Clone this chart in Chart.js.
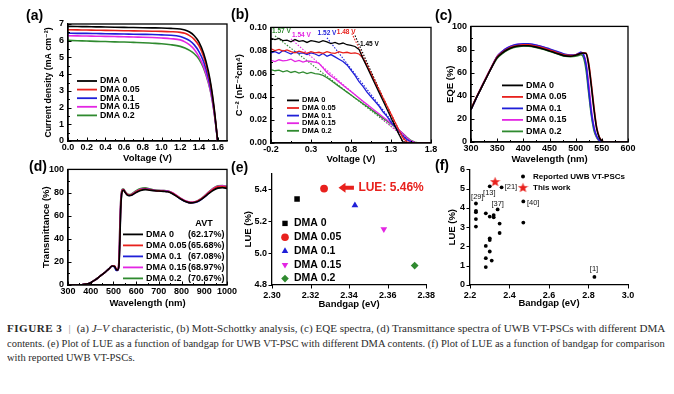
<!DOCTYPE html>
<html>
<head>
<meta charset="utf-8">
<title>Figure 3</title>
<script src="https://cdn.jsdelivr.net/npm/chart.js@4.4.1/dist/chart.umd.min.js"></script>
<style>
  html, body { margin: 0; padding: 0; background: #fff; }
  body { position: relative; width: 674px; height: 394px; overflow: hidden; }
  canvas { position: absolute; }
  .tag { position: absolute; font: bold 14px 'Liberation Sans', Arial, sans-serif; color: #000; line-height: 1; }
  .caption { position: absolute; left: 7px; top: 321px; font-family: 'Liberation Serif', 'DejaVu Serif', serif; font-size: 11px; color: #2b2b2b; }
  .caption div { white-space: nowrap; height: 14.5px; line-height: 14.5px; transform-origin: 0 50%; }
  .caption .fig { font-weight: bold; letter-spacing: 0.5px; }
  .caption .bar { color: #999; margin: 0 6px; }
</style>
</head>
<body>
<canvas id="chart-jv"></canvas>
<canvas id="chart-ms"></canvas>
<canvas id="chart-eqe"></canvas>
<canvas id="chart-trans"></canvas>
<canvas id="chart-lue"></canvas>
<canvas id="chart-compare"></canvas>

<div class="tag" style="left:26px;top:8px">(a)</div>
<div class="tag" style="left:231px;top:7px">(b)</div>
<div class="tag" style="left:435px;top:8px">(c)</div>
<div class="tag" style="left:29px;top:159px">(d)</div>
<div class="tag" style="left:231px;top:160px">(e)</div>
<div class="tag" style="left:435px;top:158px">(f)</div>

<div class="caption">
  <div data-w="658"><span class="fig">FIGURE 3</span><span class="bar">|</span>(a) <i>J–V</i> characteristic, (b) Mott-Schottky analysis, (c) EQE spectra, (d) Transmittance spectra of UWB VT-PSCs with different DMA</div>
  <div data-w="658">contents. (e) Plot of LUE as a function of bandgap for UWB VT-PSC with different DMA contents. (f) Plot of LUE as a function of bandgap for comparison</div>
  <div data-w="128">with reported UWB VT-PSCs.</div>
</div>

<script>
// shared series names / colours
const dmaLabels = ['DMA 0', 'DMA 0.05', 'DMA 0.1', 'DMA 0.15', 'DMA 0.2'];
const dmaColors = ['#000000', '#e8211d', '#1f1fd8', '#e326e3', '#2f8a2f'];
const avtLabels = ['(62.17%)', '(65.68%)', '(67.08%)', '(68.97%)', '(70.67%)'];

// (a) J-V curves
const jvVoltage = [0.0, 0.1, 0.2, 0.3, 0.4, 0.5, 0.6, 0.7, 0.8, 0.9, 1.0, 1.1, 1.2, 1.25, 1.3, 1.35, 1.4, 1.45, 1.5, 1.53, 1.56, 1.58, 1.6];
const jvDma0   = [6.86, 6.85, 6.84, 6.83, 6.82, 6.81, 6.80, 6.79, 6.78, 6.77, 6.76, 6.74, 6.70, 6.64, 6.52, 6.30, 5.92, 5.25, 4.20, 3.30, 2.10, 1.10, 0.0];
const jvDma005 = [6.66, 6.65, 6.64, 6.63, 6.62, 6.61, 6.60, 6.59, 6.58, 6.57, 6.56, 6.54, 6.50, 6.44, 6.30, 6.08, 5.70, 5.05, 4.05, 3.20, 2.00, 1.05, 0.0];
const jvDma01  = [6.45, 6.44, 6.44, 6.43, 6.42, 6.41, 6.40, 6.39, 6.38, 6.37, 6.35, 6.33, 6.25, 6.15, 6.00, 5.75, 5.35, 4.75, 3.80, 3.00, 1.90, 1.00, 0.0];
const jvDma015 = [6.30, 6.29, 6.28, 6.27, 6.26, 6.25, 6.24, 6.22, 6.21, 6.19, 6.16, 6.12, 6.05, 5.93, 5.75, 5.48, 5.05, 4.45, 3.55, 2.80, 1.80, 0.95, 0.0];
const jvDma02  = [6.02, 6.00, 5.98, 5.96, 5.95, 5.93, 5.92, 5.90, 5.88, 5.85, 5.82, 5.76, 5.66, 5.56, 5.42, 5.22, 4.90, 4.35, 3.50, 2.80, 1.80, 0.95, 0.0];
const jvTicksX = [0.0, 0.2, 0.4, 0.6, 0.8, 1.0, 1.2, 1.4, 1.6];
const jvTicksY = [0, 1, 2, 3, 4, 5, 6, 7];

// (b) Mott-Schottky
const msVoltage = [-0.20, -0.15, -0.10, -0.05, 0.00, 0.05, 0.10, 0.15, 0.20, 0.25, 0.30, 0.35, 0.40, 0.45, 0.50, 0.55, 0.60, 0.65, 0.70, 0.75,
  0.80, 0.85, 0.90, 0.95, 1.00, 1.05, 1.10, 1.15, 1.20, 1.25, 1.30, 1.35, 1.40, 1.45, 1.50, 1.55, 1.60, 1.65, 1.70, 1.75, 1.80];
const msDma0 = [0.0905, 0.0895, 0.0905, 0.0885, 0.0890, 0.0875, 0.0895, 0.0880, 0.0885, 0.0870, 0.0885, 0.0880, 0.0870, 0.0885, 0.0875, 0.0860, 0.0870, 0.0855, 0.0865, 0.0850,
  0.0845, 0.0835, 0.0810, 0.0730, 0.0657, 0.0584, 0.0511, 0.0438, 0.0365, 0.0292, 0.0219, 0.0146, 0.0073, 0.0010, 0.0003, 0, 0, 0, 0, 0, 0];
const msDma005 = [0.0815, 0.0800, 0.0810, 0.0795, 0.0805, 0.0790, 0.0780, 0.0795, 0.0785, 0.0775, 0.0790, 0.0780, 0.0785, 0.0775, 0.0790, 0.0780, 0.0775, 0.0790, 0.0780, 0.0785,
  0.0775, 0.0780, 0.0770, 0.0735, 0.0670, 0.0600, 0.0530, 0.0460, 0.0390, 0.0320, 0.0250, 0.0180, 0.0110, 0.0045, 0.0010, 0.0002, 0, 0, 0, 0, 0];
const msDma01 = [0.0780, 0.0790, 0.0775, 0.0800, 0.0785, 0.0770, 0.0790, 0.0775, 0.0780, 0.0765, 0.0780, 0.0770, 0.0755, 0.0775, 0.0750, 0.0765, 0.0745, 0.0725, 0.0705, 0.0675,
  0.0630, 0.0585, 0.0530, 0.0490, 0.0440, 0.0400, 0.0360, 0.0320, 0.0270, 0.0230, 0.0180, 0.0140, 0.0100, 0.0060, 0.0030, 0.0010, 0, 0, 0, 0, 0];
const msDma015 = [0.0715, 0.0705, 0.0720, 0.0710, 0.0715, 0.0725, 0.0705, 0.0715, 0.0700, 0.0710, 0.0705, 0.0700, 0.0690, 0.0650, 0.0610, 0.0580, 0.0555, 0.0528, 0.0500, 0.0472,
  0.0445, 0.0418, 0.0390, 0.0362, 0.0335, 0.0308, 0.0280, 0.0252, 0.0225, 0.0198, 0.0170, 0.0142, 0.0112, 0.0080, 0.0045, 0.0018, 0.0005, 0, 0, 0, 0];
const msDma02 = [0.0635, 0.0625, 0.0630, 0.0615, 0.0625, 0.0610, 0.0620, 0.0605, 0.0615, 0.0600, 0.0610, 0.0600, 0.0595, 0.0585, 0.0565, 0.0540, 0.0515, 0.0490, 0.0465, 0.0440,
  0.0415, 0.0390, 0.0365, 0.0340, 0.0315, 0.0290, 0.0265, 0.0240, 0.0215, 0.0190, 0.0165, 0.0140, 0.0112, 0.0082, 0.0050, 0.0022, 0.0008, 0.0002, 0, 0, 0];
// dotted extrapolations: [x start, y start] -> [intercept, 0]
const msFitStartX = [0.85, 0.81, 0.50, 0.05, -0.15];
const msFitStartY = [0.0930, 0.0948, 0.0910, 0.0900, 0.0927];
const msIntercepts = [1.45, 1.48, 1.52, 1.54, 1.57];
const msInterceptText = ['1.45 V', '1.48 V', '1.52 V', '1.54 V', '1.57 V'];
const msLabelX = [1.03, 0.74, 0.50, 0.18, -0.07];
const msLabelY = [0.0855, 0.0955, 0.0950, 0.0935, 0.0970];
const msTicksX = [-0.2, 0.3, 0.8, 1.3, 1.8];
const msTicksY = [0.00, 0.02, 0.04, 0.06, 0.08, 0.10];

// (c) EQE
const eqeWavelength = [300, 310, 320, 330, 340, 350, 360, 370, 380, 390, 400, 410, 420, 430, 440, 450, 460, 470, 480, 490,
  500, 505, 510, 515, 520, 525, 530, 535, 540, 545, 550, 555, 560, 600];
const eqeDma0   = [28, 38, 47, 56, 65, 73, 77, 80, 82, 83, 83.3, 83.2, 82.5, 81.5, 80.2, 78.8, 77.2, 75.8, 74.5, 74.2,
  75.0, 75.8, 76.5, 77.0, 76.5, 66, 48, 28, 12, 4, 1, 0, 0, 0];
const eqeDma005 = [28.5, 38.5, 47.5, 56.5, 65.5, 73.5, 77.5, 80.5, 82.5, 83.5, 84, 84, 83.3, 82.3, 81, 79.5, 78, 76.5, 75.2, 74.8,
  75.3, 76, 76.5, 77, 77, 68, 50, 30, 13, 4.5, 1.2, 0, 0, 0];
const eqeDma01  = [28, 38, 47.5, 56.5, 65.5, 74, 78.5, 81.5, 83.5, 84.5, 85, 85, 84.3, 83.2, 82, 80.5, 79, 77.5, 75.8, 75.2,
  75.5, 76.5, 77.5, 75.5, 66, 45, 25, 12, 5, 1.5, 0.3, 0, 0, 0];
const eqeDma015 = [28, 38, 47.5, 56.5, 65.5, 74, 78.5, 81.5, 83.5, 84.5, 85, 84.8, 84, 83, 81.8, 80.2, 78.6, 77, 75.5, 75,
  75.3, 76.5, 77.5, 76, 68, 50, 28, 13, 5, 1.5, 0.3, 0, 0, 0];
const eqeDma02  = [28, 38, 47, 56, 65, 72.5, 76.5, 79.5, 81.5, 82.5, 83, 82.8, 82.2, 81.2, 80, 78.5, 77, 75.5, 74.2, 73.8,
  74.2, 74.8, 75.5, 73, 62, 42, 23, 10, 4, 1, 0.2, 0, 0, 0];
const eqeTicksX = [300, 350, 400, 450, 500, 550, 600];
const eqeTicksY = [0, 20, 40, 60, 80, 100];

// (d) transmittance
const trWavelength = [300, 340, 360, 380, 400, 420, 440, 460, 480, 495, 505, 512, 518, 524, 528, 532, 536, 540, 545, 550,
  560, 570, 580, 590, 600, 620, 640, 660, 680, 700, 720, 740, 760, 780, 800, 820, 840, 860, 880, 900, 920, 940, 960, 980, 1000];
const trDma0   = [0, 0, 0.2, 0.8, 2, 4.5, 7.5, 10.5, 14, 16.5, 16, 13.5, 13, 16, 35, 65, 78, 81.5, 82, 80.5,
  78, 77.3, 77.6, 78.8, 80, 81.8, 82.5, 82, 81.5, 81.3, 81, 80.6, 79, 76.5, 74, 72, 71, 71.5, 73.2, 76, 79.2, 82, 83.8, 84.2, 83.5];
const trDma005 = [0, 0, 0.2, 0.8, 2, 4.5, 7.5, 10.5, 14, 16.5, 16.5, 14, 13, 17, 40, 68, 79, 82, 82.3, 80.8,
  78.3, 77.6, 78, 79.2, 80.5, 82.3, 83, 82.3, 81.7, 81.4, 81.2, 80.8, 79.3, 76.8, 74.3, 72.3, 71.3, 71.8, 73.6, 76.5, 80, 83, 85, 85.2, 84.3];
const trDma01  = [0, 0, 0.2, 0.8, 2, 4.5, 7.5, 10.5, 14, 16.3, 15.5, 12.5, 12.5, 16, 38, 67, 79, 82, 82.3, 80.8,
  78.2, 77.5, 77.8, 79, 80.3, 82.3, 83.2, 82.5, 81.8, 81.5, 81.3, 80.8, 79.2, 76.6, 74, 72, 71, 71.4, 73, 76, 79.5, 82.5, 84.5, 85, 84.5];
const trDma015 = [0, 0, 0.2, 0.8, 2, 4.5, 7.5, 10.5, 14, 16.5, 16.5, 13.5, 13, 20, 48, 72, 80.5, 82.5, 82.6, 81,
  78.6, 77.9, 78.3, 79.6, 81, 82.8, 83.5, 82.8, 82, 81.8, 81.8, 81.4, 79.8, 77.2, 74.6, 72.6, 71.6, 72, 73.8, 76.8, 80.3, 83.5, 85.5, 85.8, 85];
const trDma02  = [0, 0, 0.2, 0.8, 2, 4.5, 7.5, 10.5, 14, 16.5, 16.3, 13, 13, 21, 50, 73, 81, 83, 83, 81.3,
  79, 78.3, 78.8, 80.2, 81.6, 83.5, 84, 83.2, 82.3, 81.9, 81.7, 81.2, 79.6, 77, 74.5, 72.5, 71.5, 72, 74, 77, 80.6, 83.8, 85.8, 86, 85.2];
const trTicksX = [300, 400, 500, 600, 700, 800, 900, 1000];
const trTicksY = [0, 20, 40, 60, 80, 100];

// (e) LUE vs bandgap for DMA contents
const lueBandgap = [2.313, 2.327, 2.343, 2.358, 2.374];
const lueValues = [5.34, 5.405, 5.30, 5.15, 4.922];
const lueMarkers = ['rect', 'circle', 'triangle', 'triangle', 'rectRot'];
const lueMarkerTurn = [0, 0, 0, 180, 0];
const lueTicksX = [2.30, 2.32, 2.34, 2.36, 2.38];
const lueTicksY = [4.8, 5.0, 5.2, 5.4];

// (f) comparison with reported devices
const reportedGap = [2.23, 2.23, 2.23, 2.23, 2.23, 2.28, 2.28, 2.28, 2.28, 2.30, 2.30, 2.30, 2.30, 2.30, 2.31, 2.32, 2.32, 2.34, 2.35, 2.35, 2.36, 2.47, 2.47, 2.83];
const reportedLue = [4.23, 3.85, 3.78, 3.42, 3.03, 3.72, 2.03, 1.39, 0.93, 5.12, 3.55, 2.42, 2.33, 1.74, 1.27, 3.63, 3.51, 3.92, 3.19, 2.70, 5.07, 4.34, 3.24, 0.42];
const thisWorkGap = [2.327];
const thisWorkLue = [5.37];
const refText = ['[29]', '[13]', '[21]', '[37]', '[40]', '[1]'];
const refX = [2.237, 2.298, 2.407, 2.340, 2.520, 2.828];
const refY = [4.59, 4.78, 5.07, 4.22, 4.27, 0.84];
const cmpTicksX = [2.2, 2.4, 2.6, 2.8, 3.0];
const cmpTicksY = [0, 1, 2, 3, 4, 5, 6];

const FONT = "'Liberation Sans', 'DejaVu Sans', Arial, sans-serif";
Chart.defaults.font.family = FONT;
Chart.defaults.color = '#000';

function toXY(xs, ys) {
  return xs.map((x, i) => ({ x, y: ys[i] }));
}

function midpoints(values) {
  const out = [];
  for (let i = 0; i < values.length - 1; i++) out.push((values[i] + values[i + 1]) / 2);
  return out;
}

function starImage(size, color) {
  const c = document.createElement('canvas');
  c.width = size;
  c.height = size;
  const g = c.getContext('2d');
  g.fillStyle = color;
  g.beginPath();
  for (let i = 0; i < 10; i++) {
    const r = i % 2 ? size * 0.21 : size / 2;
    const ang = -Math.PI / 2 + i * Math.PI / 5;
    g.lineTo(size / 2 + r * Math.cos(ang), size / 2 + r * 0.95 * Math.sin(ang) + size * 0.04);
  }
  g.closePath();
  g.fill();
  return c;
}
const redStar = starImage(11, '#e8211d');

// per-chart extras read by the plugin below (keyed by canvas id)
const extras = {};

const panelPlugin = {
  id: 'panelExtras',
  afterDraw(chart) {
    const ex = extras[chart.canvas.id];
    if (!ex) return;
    const ctx = chart.ctx;
    const a = chart.chartArea;
    const xs = chart.scales.x;
    const ys = chart.scales.y;
    ctx.save();
    ctx.strokeStyle = '#000';
    ctx.lineWidth = 1.3;
    if (ex.box) ctx.strokeRect(a.left, a.top, a.right - a.left, a.bottom - a.top);

    // tick marks
    const dir = ex.inward ? -1 : 1;
    const tickX = (v, len) => {
      const px = Math.round(xs.getPixelForValue(v)) + 0.5;
      ctx.beginPath(); ctx.moveTo(px, a.bottom); ctx.lineTo(px, a.bottom + dir * len); ctx.stroke();
    };
    const tickY = (v, len) => {
      const py = Math.round(ys.getPixelForValue(v)) + 0.5;
      ctx.beginPath(); ctx.moveTo(a.left, py); ctx.lineTo(a.left - dir * len, py); ctx.stroke();
    };
    ctx.lineWidth = 1;
    (ex.ticksX || []).forEach((v) => tickX(v, 3.5));
    (ex.ticksY || []).forEach((v) => tickY(v, 3.5));
    if (ex.minor) {
      midpoints(ex.ticksX).forEach((v) => tickX(v, 2));
      midpoints(ex.ticksY).forEach((v) => tickY(v, 2));
    }

    // free text in data coordinates
    (ex.notes || []).forEach((n) => {
      ctx.font = `${n.weight || 'bold'} ${n.size}px ${FONT}`;
      ctx.fillStyle = n.color;
      ctx.textAlign = n.align || 'center';
      ctx.textBaseline = 'middle';
      ctx.fillText(n.text, xs.getPixelForValue(n.x), ys.getPixelForValue(n.y));
    });

    if (ex.arrow) {
      const x1 = xs.getPixelForValue(ex.arrow.from);
      const x2 = xs.getPixelForValue(ex.arrow.to);
      const y = ys.getPixelForValue(ex.arrow.y);
      ctx.fillStyle = ex.arrow.color;
      ctx.fillRect(x2 + 5, y - 2, x1 - x2 - 5, 4);
      ctx.beginPath();
      ctx.moveTo(x2, y); ctx.lineTo(x2 + 7, y - 5); ctx.lineTo(x2 + 7, y + 5); ctx.closePath();
      ctx.fill();
    }

    // legend inside the plot area
    const lg = ex.legend;
    if (lg) {
      ctx.font = `bold ${lg.size}px ${FONT}`;
      ctx.textBaseline = 'middle';
      ctx.textAlign = 'left';
      lg.items.forEach((it, i) => {
        const y = a.top + lg.y + i * lg.gap;
        if (lg.lineFrom !== undefined) {
          ctx.strokeStyle = it.color;
          ctx.lineWidth = 1.8;
          ctx.beginPath();
          ctx.moveTo(a.left + lg.lineFrom, y);
          ctx.lineTo(a.left + lg.lineTo, y);
          ctx.stroke();
        } else if (it.image) {
          ctx.drawImage(it.image, a.left + lg.markX - it.image.width / 2, y - it.image.height / 2);
        } else {
          ctx.fillStyle = it.color;
          ctx.strokeStyle = it.color;
          Chart.helpers.drawPoint(ctx, { pointStyle: it.style, rotation: it.rotation || 0, radius: it.radius, borderWidth: 0 }, a.left + lg.markX, y);
        }
        ctx.fillStyle = '#000';
        ctx.fillText(it.text, a.left + lg.textX, y);
        if (it.extra) ctx.fillText(it.extra, a.left + lg.extraX, y);
      });
      if (lg.header) {
        ctx.textAlign = 'center';
        ctx.fillText(lg.header.text, a.left + lg.header.x, a.top + lg.header.y);
      }
    }
    ctx.restore();
  }
};
Chart.register(panelPlugin);

function axis(min, max, values, digits, title, pad, titleSize) {
  return {
    type: 'linear',
    min,
    max,
    grid: { display: false, drawTicks: false },
    border: { display: true, color: '#000', width: 1.3 },
    ticks: {
      padding: pad,
      autoSkip: false,
      maxRotation: 0,
      color: '#000',
      font: { size: 9, weight: 'bold' },
      callback: (v) => Number(v).toFixed(digits)
    },
    afterBuildTicks: (scale) => { scale.ticks = values.map((v) => ({ value: v })); },
    title: { display: true, text: title, color: '#000', padding: 0, font: { size: titleSize || 9.5, weight: 'bold' } }
  };
}

function buildChart(id, geo, config) {
  const canvas = document.getElementById(id);
  const left = geo.l - geo.yW;
  const top = geo.t - geo.padT;
  const width = geo.r + geo.padR - left;
  const height = geo.b + geo.xH - top;
  canvas.width = width;
  canvas.height = height;
  canvas.style.left = left + 'px';
  canvas.style.top = top + 'px';
  canvas.style.width = width + 'px';
  canvas.style.height = height + 'px';
  const o = config.options;
  o.responsive = false;
  o.animation = false;
  o.layout = { padding: { top: geo.padT, right: geo.padR, left: 0, bottom: 0 } };
  o.scales.x.afterFit = (s) => { s.height = geo.xH; };
  o.scales.y.afterFit = (s) => { s.width = geo.yW; };
  o.plugins = { legend: { display: false }, tooltip: { enabled: false } };
  return new Chart(canvas, config);
}

function curveSets(xs, series, width, smooth) {
  return dmaLabels.map((name, i) => ({
    label: name,
    data: toXY(xs, series[i]),
    borderColor: dmaColors[i],
    borderWidth: width,
    pointRadius: 0,
    fill: false,
    cubicInterpolationMode: smooth ? 'monotone' : 'default',
    tension: 0
  }));
}

function lineLegend(y, gap, size, lineFrom, lineTo, textX) {
  return { y, gap, size, lineFrom, lineTo, textX, items: dmaLabels.map((t, i) => ({ text: t, color: dmaColors[i] })) };
}

// (a)
extras['chart-jv'] = { box: true, inward: true, minor: true, ticksX: jvTicksX, ticksY: jvTicksY,
  legend: lineLegend(57, 8.6, 8.8, 9, 29, 32) };
buildChart('chart-jv', { l: 68, t: 24, r: 227, b: 141, yW: 25, xH: 23, padT: 10, padR: 10 }, {
  type: 'line',
  data: { datasets: curveSets(jvVoltage, [jvDma0, jvDma005, jvDma01, jvDma015, jvDma02], 1.6, true) },
  options: { scales: {
    x: axis(0, 1.7, jvTicksX, 1, 'Voltage (V)', 1),
    y: axis(0, 7, jvTicksY, 0, 'Current density (mA cm⁻²)', 4, 8.8)
  } }
});

// (b)
const msSets = curveSets(msVoltage, [msDma0, msDma005, msDma01, msDma015, msDma02], 1.3, false);
msIntercepts.forEach((v, i) => {
  msSets.push({
    data: [{ x: msFitStartX[i], y: msFitStartY[i] }, { x: v, y: 0 }],
    borderColor: dmaColors[i],
    borderWidth: 1.1,
    borderDash: [1.5, 1.5],
    pointRadius: 0,
    fill: false
  });
});
extras['chart-ms'] = { box: true, inward: true, minor: true, ticksX: msTicksX, ticksY: msTicksY,
  legend: lineLegend(73, 7.6, 7.5, 16, 28, 31),
  notes: msInterceptText.map((t, i) => ({ text: t, x: msLabelX[i], y: msLabelY[i], color: dmaColors[i], size: 6.5 })) };
buildChart('chart-ms', { l: 271, t: 26, r: 431, b: 143, yW: 37, xH: 22, padT: 8, padR: 9 }, {
  type: 'line',
  data: { datasets: msSets },
  options: { scales: {
    x: axis(-0.2, 1.8, msTicksX, 1, 'Voltage (V)', 1),
    y: axis(0, 0.1, msTicksY, 2, 'C⁻² (nF⁻²cm⁴)', 4)
  } }
});

// (c)
extras['chart-eqe'] = { box: true, inward: true, minor: true, ticksX: eqeTicksX, ticksY: eqeTicksY,
  legend: lineLegend(59, 11.5, 9, 31, 52, 55) };
buildChart('chart-eqe', { l: 471, t: 25, r: 628, b: 142, yW: 26, xH: 23, padT: 8, padR: 12 }, {
  type: 'line',
  data: { datasets: curveSets(eqeWavelength, [eqeDma0, eqeDma005, eqeDma01, eqeDma015, eqeDma02], 1.6, true) },
  options: { scales: {
    x: axis(300, 600, eqeTicksX, 0, 'Wavelength (nm)', 1),
    y: axis(0, 100, eqeTicksY, 0, 'EQE (%)', 4)
  } }
});

// (d)
const trLegend = lineLegend(65, 11, 9, 55, 75, 78);
trLegend.extraX = 120;
trLegend.items.forEach((it, i) => { it.extra = avtLabels[i]; });
trLegend.header = { text: 'AVT', x: 136, y: 54 };
extras['chart-trans'] = { box: true, inward: true, minor: true, ticksX: trTicksX, ticksY: trTicksY, legend: trLegend };
buildChart('chart-trans', { l: 68, t: 168, r: 227, b: 285, yW: 27, xH: 24, padT: 8, padR: 12 }, {
  type: 'line',
  data: { datasets: curveSets(trWavelength, [trDma0, trDma005, trDma01, trDma015, trDma02], 1.6, true) },
  options: { scales: {
    x: axis(300, 1000, trTicksX, 0, 'Wavelength (nm)', 1),
    y: axis(0, 100, trTicksY, 0, 'Transmittance (%)', 4)
  } }
});

// (e)
extras['chart-lue'] = { box: false, inward: false, ticksX: lueTicksX, ticksY: lueTicksY,
  notes: [{ text: 'LUE: 5.46%', x: 2.3448, y: 5.41, color: '#e8211d', size: 12, align: 'left' }],
  arrow: { from: 2.3425, to: 2.3345, y: 5.41, color: '#e8211d' },
  legend: { y: 50, gap: 13.8, size: 10.5, markX: 13, textX: 22,
    items: dmaLabels.map((t, i) => ({ text: t, color: dmaColors[i], style: lueMarkers[i], rotation: lueMarkerTurn[i], radius: 3.8 })) } };
buildChart('chart-lue', { l: 272, t: 171, r: 430, b: 285, yW: 29, xH: 25, padT: 8, padR: 10 }, {
  type: 'scatter',
  data: { datasets: dmaLabels.map((name, i) => ({
    label: name,
    data: [{ x: lueBandgap[i], y: lueValues[i] }],
    pointStyle: lueMarkers[i],
    rotation: lueMarkerTurn[i],
    pointRadius: 3.9,
    backgroundColor: dmaColors[i],
    borderColor: dmaColors[i],
    borderWidth: 0
  })) },
  options: { scales: {
    x: axis(2.30, 2.38, lueTicksX, 2, 'Bandgap (eV)', 5),
    y: axis(4.8, 5.5, lueTicksY, 1, 'LUE (%)', 5)
  } }
});

// (f)
extras['chart-compare'] = { box: false, inward: false, ticksX: cmpTicksX, ticksY: cmpTicksY,
  notes: refText.map((t, i) => ({ text: t, x: refX[i], y: refY[i], color: '#111', size: 7.5, weight: 'normal' })),
  legend: { y: 7, gap: 11, size: 8, markX: 53, textX: 63,
    items: [
      { text: 'Reported UWB VT-PSCs', color: '#000', style: 'circle', radius: 2 },
      { text: 'This work', image: redStar }
    ] } };
buildChart('chart-compare', { l: 470, t: 167, r: 628, b: 285, yW: 23, xH: 24, padT: 8, padR: 12 }, {
  type: 'scatter',
  data: { datasets: [
    { label: 'Reported UWB VT-PSCs', data: toXY(reportedGap, reportedLue), pointStyle: 'circle', pointRadius: 1.9,
      backgroundColor: '#000', borderColor: '#000', borderWidth: 0 },
    { label: 'This work', data: toXY(thisWorkGap, thisWorkLue), pointStyle: redStar, pointRadius: 5 }
  ] },
  options: { scales: {
    x: axis(2.2, 3.0, cmpTicksX, 1, 'Bandgap (eV)', 5),
    y: axis(0, 6, cmpTicksY, 0, 'LUE (%)', 5)
  } }
});

// squeeze caption lines to the widths of the printed figure
document.querySelectorAll('.caption div').forEach((line) => {
  const target = Number(line.dataset.w);
  line.style.display = 'inline-block';
  const w = line.getBoundingClientRect().width;
  line.style.display = 'block';
  if (w > 0) line.style.transform = `scaleX(${(target / w).toFixed(3)})`;
});
</script>
</body>
</html>
